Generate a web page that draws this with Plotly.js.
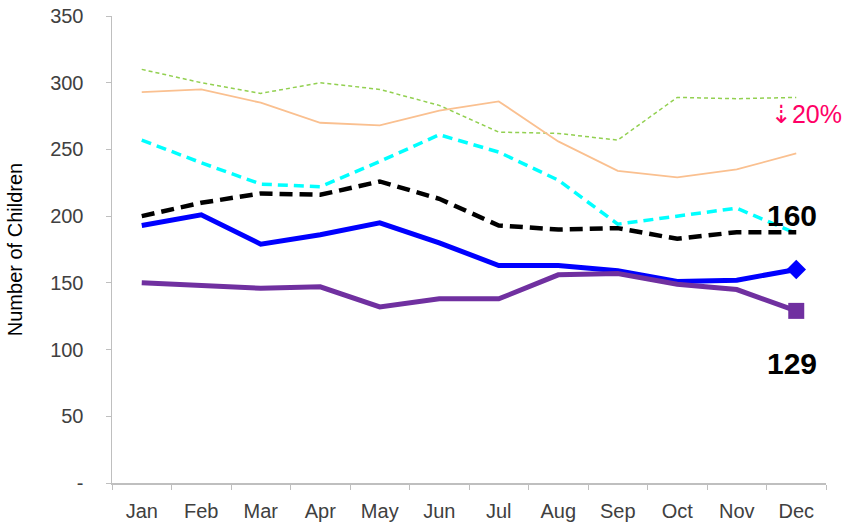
<!DOCTYPE html>
<html>
<head>
<meta charset="utf-8">
<script src="https://cdn.plot.ly/plotly-3.0.1.min.js"></script>
<style>
  html, body { margin: 0; padding: 0; background: #fff; }
  #chart { width: 844px; height: 527px; }
</style>
</head>
<body>
<div id="chart"></div>
<script>
// months on the category axis
var months = ['Jan', 'Feb', 'Mar', 'Apr', 'May', 'Jun', 'Jul', 'Aug', 'Sep', 'Oct', 'Nov', 'Dec'];
var yTicks = [0, 50, 100, 150, 200, 250, 300, 350];
var yTickText = ['-', '50', '100', '150', '200', '250', '300', '350'];

// series
var greenSeries  = [310, 300, 292, 300, 295, 283, 263, 262, 257, 289, 288, 289];
var orangeSeries = [293, 295, 285, 270, 268, 279, 286, 256, 234, 229, 235, 247];
var cyanSeries   = [257, 240, 224, 222, 241, 261, 248, 227, 194, 200, 206, 187];
var blackSeries  = [200, 210, 217, 216, 226, 213, 193, 190, 191, 183, 188, 188];
var blueSeries   = [193, 201, 179, 186, 195, 180, 163, 163, 159, 151, 152, 160];
var purpleSeries = [150, 148, 146, 147, 132, 138, 138, 156, 157, 149, 145, 129];

var last = months.length - 1;

var traces = [
    { x: months, y: greenSeries, mode: 'lines', line: { color: '#92D050', width: 1.5, dash: '4px,3px' } },
    { x: months, y: orangeSeries, mode: 'lines', line: { color: '#FAC090', width: 1.8 } },
    { x: months, y: cyanSeries, mode: 'lines', line: { color: '#00FFFF', width: 3.5, dash: '10px,6px' } },
    { x: months, y: blackSeries, mode: 'lines', line: { color: '#000000', width: 4.5, dash: '13px,7px' } },
    { x: months, y: blueSeries, mode: 'lines', line: { color: '#0000FF', width: 5 } },
    { x: months, y: purpleSeries, mode: 'lines', line: { color: '#7030A0', width: 5 } },
    // end markers
    { x: [months[last]], y: [blueSeries[last]], mode: 'markers',
      marker: { symbol: 'diamond', size: 15, color: '#0000FF' } },
    { x: [months[last]], y: [purpleSeries[last]], mode: 'markers',
      marker: { symbol: 'square', size: 16, color: '#7030A0' } }
];

var tickFont = { family: 'Arial, Liberation Sans, sans-serif', size: 20, color: '#404040' };

var layout = {
    width: 844,
    height: 527,
    showlegend: false,
    hovermode: false,
    paper_bgcolor: '#fff',
    plot_bgcolor: '#fff',
    margin: { l: 112, r: 18, t: 16, b: 44 },
    xaxis: {
        type: 'category',
        range: [-0.5, last + 0.5],
        showgrid: false,
        zeroline: false,
        showline: true,
        linecolor: '#BFBFBF',
        linewidth: 1.5,
        ticks: 'outside',
        tickson: 'boundaries',
        ticklen: 5,
        tickcolor: '#BFBFBF',
        tickfont: tickFont,
        ticklabelstandoff: 9
    },
    yaxis: {
        range: [0, 350],
        showgrid: false,
        zeroline: false,
        showline: true,
        linecolor: '#BFBFBF',
        linewidth: 1.5,
        ticks: 'outside',
        ticklen: 5,
        tickcolor: '#BFBFBF',
        tickvals: yTicks,
        ticktext: yTickText,
        tickfont: tickFont,
        ticklabelstandoff: 18,
        title: {
            text: 'Number of Children',
            font: { family: 'Arial, Liberation Sans, sans-serif', size: 20, color: '#000' },
            standoff: 22
        }
    },
    annotations: [
        { x: months[last], y: blueSeries[last], text: String(blueSeries[last]), showarrow: false,
          yshift: 54, xshift: -4, font: { family: 'Arial, Liberation Sans, sans-serif', size: 30, color: '#000', weight: 'bold' } },
        { x: months[last], y: purpleSeries[last], text: String(purpleSeries[last]), showarrow: false,
          yshift: -53, xshift: -4, font: { family: 'Arial, Liberation Sans, sans-serif', size: 30, color: '#000', weight: 'bold' } },
        { x: months[last], y: greenSeries[last], text: '\u21E320%', showarrow: false,
          yshift: -17, xshift: 10, font: { family: 'Arial, Liberation Sans, DejaVu Sans, sans-serif', size: 25, color: '#FF0066' } }
    ]
};

Plotly.newPlot('chart', traces, layout, { displayModeBar: false, staticPlot: true });
</script>
</body>
</html>
